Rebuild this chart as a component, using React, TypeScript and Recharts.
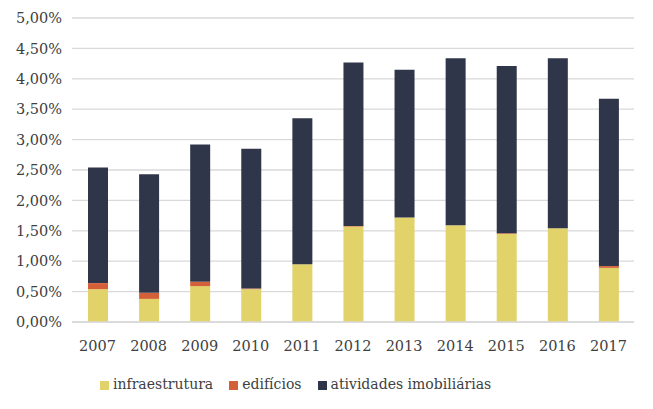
import { BarChart, Bar, XAxis, YAxis, CartesianGrid, Legend } from 'recharts'

const anos = ['2007', '2008', '2009', '2010', '2011', '2012', '2013', '2014', '2015', '2016', '2017']
const infraestrutura = [0.54, 0.38, 0.59, 0.54, 0.95, 1.57, 1.72, 1.59, 1.45, 1.54, 0.89]
const edificios = [0.10, 0.10, 0.07, 0.01, 0.0, 0.01, 0.0, 0.0, 0.01, 0.0, 0.03]
const imobiliarias = [1.90, 1.95, 2.26, 2.30, 2.40, 2.69, 2.43, 2.75, 2.75, 2.80, 2.75]
const yTicks = [0, 0.5, 1, 1.5, 2, 2.5, 3, 3.5, 4, 4.5, 5]

const data = anos.map((ano, i) => ({
  ano,
  a_infra: infraestrutura[i],
  b_edif: edificios[i],
  c_imob: imobiliarias[i],
}))

const fmtPct = (v: number) => v.toFixed(2).replace('.', ',') + '%'

const FONT = "'DejaVu Serif', serif"

export default function App() {
  return (
    <div style={{ position: 'absolute', left: 0, top: 0, background: '#fff', fontFamily: FONT }}>
      <BarChart
        width={653}
        height={409}
        data={data}
        barSize={20}
        margin={{ top: 18, right: 19, left: 0, bottom: 21 }}
        style={{ fontFamily: FONT }}
      >
        <CartesianGrid vertical={false} stroke="#d9d9d9" strokeWidth={1.3} />
        <XAxis
          dataKey="ano"
          axisLine={{ stroke: '#d9d9d9', strokeWidth: 1.3 }}
          tickLine={false}
          tickMargin={13}
          height={50}
          tick={{ fontSize: 14.5, fill: '#404040', fontFamily: FONT }}
        />
        <YAxis
          domain={[0, 5]}
          ticks={yTicks}
          tickFormatter={fmtPct}
          axisLine={false}
          tickLine={false}
          tickMargin={4}
          width={72}
          tick={{ fontSize: 14.5, fill: '#404040', fontFamily: FONT }}
        />
        <Legend
          verticalAlign="bottom"
          align="left"
          iconType="square"
          iconSize={9}
          itemSorter="dataKey"
          wrapperStyle={{ left: 100, bottom: 17, fontSize: 14, fontFamily: FONT, color: '#404040' }}
          formatter={(value) => <span style={{ color: '#404040', fontFamily: FONT, marginRight: 6 }}>{value}</span>}
        />
        <Bar dataKey="a_infra" name="infraestrutura" stackId="a" fill="#e2d26a" isAnimationActive={false} />
        <Bar dataKey="b_edif" name="edifícios" stackId="a" fill="#d4603a" isAnimationActive={false} />
        <Bar dataKey="c_imob" name="atividades imobiliárias" stackId="a" fill="#30364a" isAnimationActive={false} />
      </BarChart>
    </div>
  )
}
